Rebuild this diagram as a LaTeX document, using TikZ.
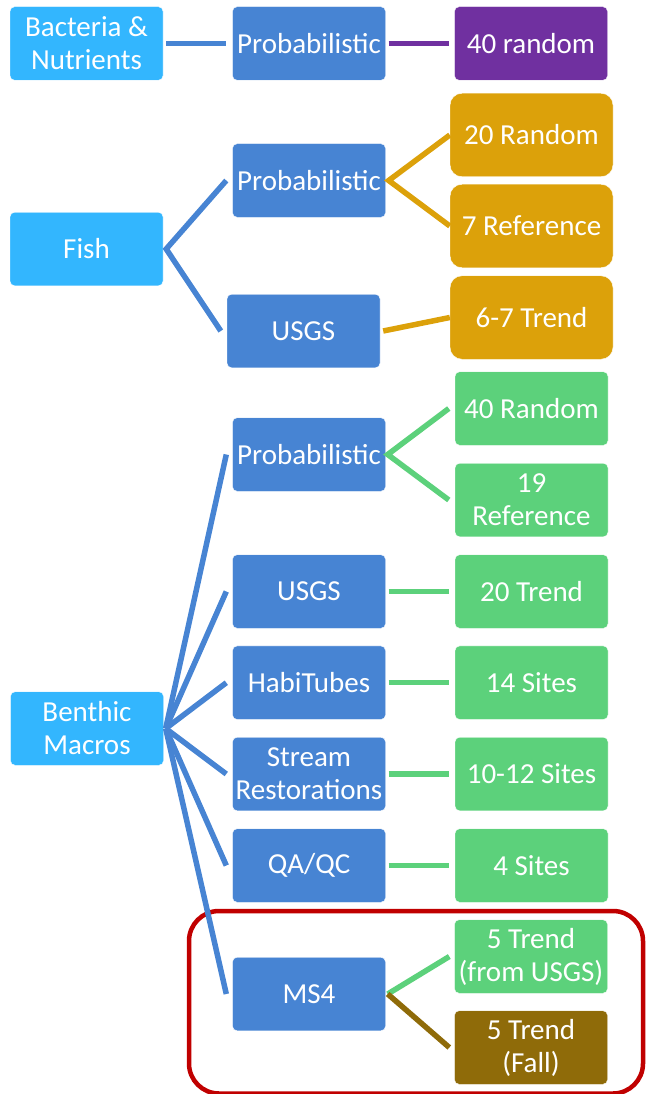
\documentclass[tikz,border=0pt]{standalone}
\usepackage{fontspec}
\setmainfont{Carlito}
\definecolor{lblue}{HTML}{33B6FE}
\definecolor{mblue}{HTML}{4784D3}
\definecolor{purp}{HTML}{7030A0}
\definecolor{orng}{HTML}{DCA10A}
\definecolor{grn}{HTML}{5CD17B}
\definecolor{brwn}{HTML}{8F6B09}
\definecolor{redc}{HTML}{C00000}
\tikzset{
  box/.style={rectangle, rounded corners=4.5pt, minimum width=153pt, minimum height=73.5pt,
    inner sep=0pt, text=white, align=center, draw=white, line width=0.4pt,
    font=\fontsize{29}{33}\selectfont},
  cat/.style={box, fill=lblue},
  meth/.style={box, fill=mblue},
  pbox/.style={box, fill=purp},
  obox/.style={box, fill=orng, minimum width=163pt, minimum height=83.5pt, rounded corners=12pt},
  gbox/.style={box, fill=grn},
  bbox/.style={box, fill=brwn},
  conn/.style={line width=5.5pt},
}
\begin{document}
\begin{tikzpicture}[x=1pt,y=-1pt]
\useasboundingbox (0,0) rectangle (647,1094);
\clip (0,0) rectangle (647,1094);
% nodes
\node[cat]  (bact)  at (86.5,43.5) {Bacteria \&\\Nutrients};
\node[meth] (bprob) at (309,43.5) {Probabilistic};
\node[pbox] (r40)   at (531,43.5) {40 random};

\node[cat]  (fish)  at (86.5,249) {Fish};
\node[meth] (fprob) at (309,180.5) {Probabilistic};
\node[meth] (fusgs) at (303.5,331) {USGS};
\node[obox] (r20)   at (531.5,135) {20 Random};
\node[obox] (ref7)  at (531.5,226) {7 Reference};
\node[obox] (t67)   at (531.5,317.5) {6-7 Trend};

\node[cat]  (benth) at (87,728.5) {Benthic\\Macros};
\node[meth] (bp2)   at (309,454.5) {Probabilistic};
\node[meth] (bus)   at (309,591.5) {USGS};
\node[meth] (habi)  at (309,682.7) {HabiTubes};
\node[meth] (strm)  at (309,774) {Stream\\Restorations};
\node[meth] (qaqc)  at (309,865.5) {QA/QC};
\node[meth] (ms4)   at (309,994) {MS4};

\node[gbox] (g40)   at (531.5,408.5) {40 Random};
\node[gbox] (g19)   at (531.5,500) {19\\Reference};
\node[gbox] (g20)   at (531.5,591.5) {20 Trend};
\node[gbox] (g14)   at (531.5,682.7) {14 Sites};
\node[gbox] (g1012) at (531.5,774) {10-12 Sites};
\node[gbox] (g4)    at (531.5,865.5) {4 Sites};
\node[gbox] (g5)    at (531,956.5) {5 Trend\\(from USGS)};
\node[bbox] (f5)    at (531,1047.5) {5 Trend\\(Fall)};

% red frame
\draw[redc, line width=4.5pt, rounded corners=30pt] (189,911) rectangle (643,1093.5);

% connectors
\draw[conn, mblue] ([xshift=3pt]bact.east) -- ([xshift=-6pt]bprob.west);
\draw[conn, purp] ([xshift=3pt]bprob.east) -- ([xshift=-5pt]r40.west);

\coordinate (fj) at ([xshift=3pt]fish.east);
\draw[conn, mblue] ([xshift=-6pt]fprob.west) -- (fj) -- ([xshift=-6pt]fusgs.west);
\coordinate (fpj) at ([xshift=3pt]fprob.east);
\draw[conn, orng] (r20.west) -- (fpj) -- (ref7.west);
\draw[conn, orng] ([xshift=3pt]fusgs.east) -- (t67.west);

\coordinate (bj) at ([xshift=2pt]benth.east);
\foreach \n in {bp2,bus,habi,strm,qaqc,ms4}
  \draw[conn, mblue] (bj) -- ([xshift=-6pt]\n.west);

\coordinate (bpj) at ([xshift=2pt]bp2.east);
\draw[conn, grn] ([xshift=-6pt]g40.west) -- (bpj) -- ([xshift=-6pt]g19.west);
\draw[conn, grn] ([xshift=3pt]bus.east) -- ([xshift=-6pt]g20.west);
\draw[conn, grn] ([xshift=3pt]habi.east) -- ([xshift=-6pt]g14.west);
\draw[conn, grn] ([xshift=3pt]strm.east) -- ([xshift=-6pt]g1012.west);
\draw[conn, grn] ([xshift=3pt]qaqc.east) -- ([xshift=-6pt]g4.west);
\coordinate (mj) at ([xshift=2pt]ms4.east);
\draw[conn, grn] (mj) -- ([xshift=-5pt]g5.west);
\draw[conn, brwn] (mj) -- ([xshift=-5pt]f5.west);
\end{tikzpicture}
\end{document}
